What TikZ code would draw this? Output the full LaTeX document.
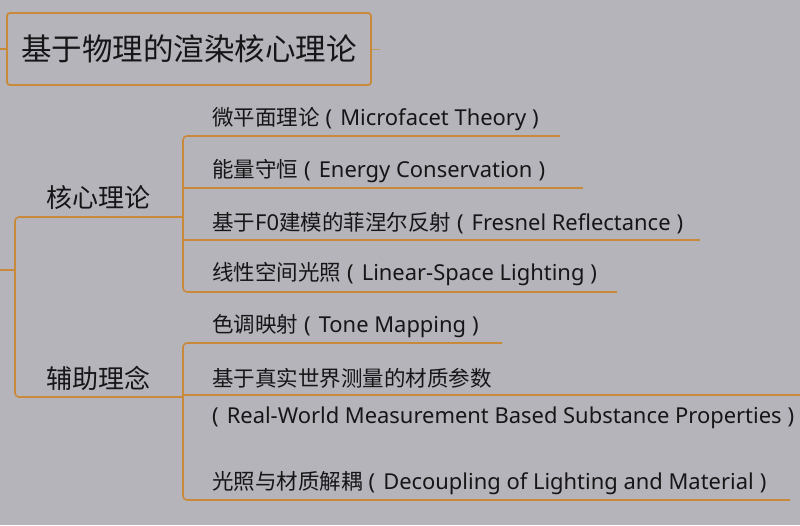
\documentclass[tikz,border=0pt]{standalone}
\usepackage{fontspec}
\setmainfont{Noto Sans CJK SC}
\newfontfamily\latfont[Scale=1.02]{Noto Sans}
\newcommand{\enpar}[1]{\hspace{6pt}{\latfont(\hspace{8pt}#1\hspace{6pt})}}
\definecolor{bg}{RGB}{181,180,186}
\definecolor{ln}{RGB}{200,138,58}
\definecolor{tx}{RGB}{22,22,24}
\begin{document}
\begin{tikzpicture}[x=1pt,y=-1pt,
  conn/.style={draw=ln,line width=1.6pt,rounded corners=4pt},
  leaf/.style={anchor=west,inner sep=0pt,text=tx,font=\fontsize{21.5}{25}\selectfont},
  mid/.style={anchor=west,inner sep=0pt,text=tx,font=\fontsize{26}{30}\selectfont},
  rootbox/.style={draw=ln,line width=1.8pt,rounded corners=3pt,fill=bg,text=tx,
    minimum width=364pt,minimum height=72pt,inner sep=0pt,font=\fontsize{30.5}{34}\selectfont}]
\fill[bg] (0,0) rectangle (800,525);
\useasboundingbox (0,0) rectangle (800,525);
% root
\node[rootbox] (root) at (189,49) {基于物理的渲染核心理论};
\coordinate (rl) at (0,49);
\coordinate (rr) at (380,49);
\draw[ln,line width=2.4pt] (rl) -- (root.west);
\draw[ln!70!bg,line width=1pt] (root.east) -- (rr);
% level 1
\node[mid] (core) at (46,198) {核心理论};
\node[mid] (aux) at (46,378) {辅助理念};
\coordinate (l1stub) at (0,270);
\coordinate (l1v) at (15,270);
\coordinate (coreJ) at (183,217);
\coordinate (auxJ) at (183,397);
\draw[conn] (l1stub) -- (l1v);
\draw[conn] (coreJ) -- (15,217) -- (15,397) -- (auxJ);
% group 1
\node[leaf] (a1) at (212,119.5) {微平面理论\enpar{Microfacet Theory}};
\node[leaf] (a2) at (212,171.5) {能量守恒\enpar{Energy Conservation}};
\node[leaf] (a3) at (212,223.5) {基于{\latfont F0}建模的菲涅尔反射\enpar{Fresnel Reflectance}};
\node[leaf] (a4) at (212,274.5) {线性空间光照\enpar{Linear-Space Lighting}};
\coordinate (a1e) at (560,136);
\coordinate (a2e) at (583,188);
\coordinate (a3e) at (700,240);
\coordinate (a4e) at (617,292);
\draw[conn] (a1e) -- (183,136) -- (183,292) -- (a4e);
\draw[conn] (183,188) -- (a2e);
\draw[conn] (183,240) -- (a3e);
% group 2
\node[leaf] (b1) at (212,326.5) {色调映射\enpar{Tone Mapping}};
\node[leaf] (b2) at (212,378.5) {基于真实世界测量的材质参数};
\node[leaf] (b2b) at (206,417.5) {\enpar{Real-World Measurement Based Substance Properties}};
\node[leaf] (b3) at (212,483.5) {光照与材质解耦\enpar{Decoupling of Lighting and Material}};
\coordinate (b1e) at (502,343);
\coordinate (b2e) at (800,395);
\coordinate (b3e) at (790,500);
\draw[conn] (b1e) -- (183,343) -- (183,500) -- (b3e);
\draw[conn] (183,395) -- (b2e);
\end{tikzpicture}
\end{document}
